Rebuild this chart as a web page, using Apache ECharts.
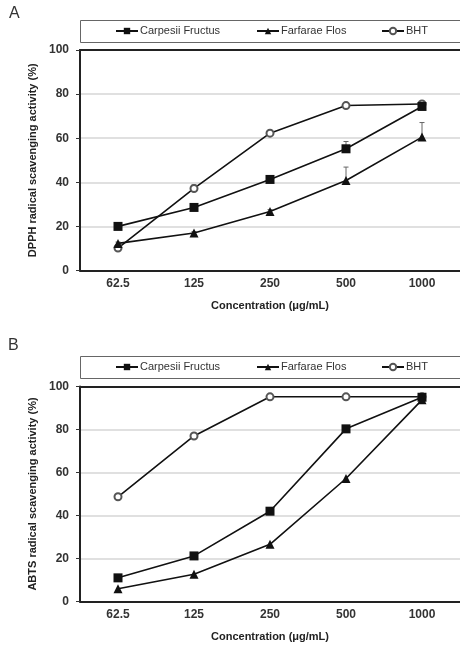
<!DOCTYPE html>
<html><head><meta charset="utf-8">
<script src="https://cdn.jsdelivr.net/npm/echarts@6/dist/echarts.min.js"></script>
<style>html,body{margin:0;padding:0;background:#fff}#c{width:460px;height:646px}</style>
</head><body><div id="c"></div>
<script>
const categories = ['62.5', '125', '250', '500', '1000'];
const seriesNames = ['Carpesii Fructus', 'Farfarae Flos', 'BHT'];
const yTicks = [0, 20, 40, 60, 80, 100];

// Panel A: DPPH
const dpphCarpesii = [20.0, 28.6, 41.3, 55.2, 74.4];
const dpphFarfarae = [12.3, 17.0, 26.8, 40.8, 60.5];
const dpphBHT = [10.2, 37.2, 62.3, 74.8, 75.5];
const dpphCarpesiiErr = [0.6, 0.8, 1.2, 3.3, 0.8];
const dpphFarfaraeErr = [0.6, 0.6, 0.8, 6.1, 6.6];
const dpphBHTErr = [0.4, 1.6, 0.6, 0.6, 0.5];

// Panel B: ABTS
const abtsCarpesii = [11.0, 21.2, 42.0, 80.3, 95.0];
const abtsFarfarae = [5.9, 12.7, 26.6, 57.2, 93.8];
const abtsBHT = [48.7, 77.0, 95.2, 95.2, 95.2];

const FONT = 'Liberation Sans, Arial, sans-serif';
const chart = echarts.init(document.getElementById('c'), null, {renderer: 'canvas'});

const grids = [
  {left: 80, top: 50, width: 383, height: 220.5},
  {left: 80, top: 386.5, width: 383, height: 215}
];

function errRender(params, api) {
  const x = api.value(0), y = api.value(1), e = api.value(2);
  const p0 = api.coord([x, y]);
  const p1 = api.coord([x, y + e]);
  const st = {stroke: '#666', lineWidth: 1};
  return {type: 'group', children: [
    {type: 'line', shape: {x1: p0[0], y1: p0[1], x2: p1[0], y2: p1[1]}, style: st},
    {type: 'line', shape: {x1: p1[0] - 2.5, y1: p1[1], x2: p1[0] + 2.5, y2: p1[1]}, style: st}
  ]};
}

const symbols = ['rect', 'triangle', 'emptyCircle'];
const symSizes = [9, 9, 7];

function lineSeries(name, idx, data, gi) {
  return {
    type: 'line', name: name, xAxisIndex: gi * 2, yAxisIndex: gi, data: data,
    symbol: symbols[idx], symbolSize: symSizes[idx], z: idx === 2 ? 3 : 4,
    lineStyle: {color: '#111', width: 1.6},
    itemStyle: idx === 2 ? {color: '#555', borderColor: '#555', borderWidth: 1} : {color: '#111'},
    emphasis: {disabled: true}, animation: false
  };
}
function errSeries(vals, errs, gi) {
  return {
    type: 'custom', xAxisIndex: gi * 2, yAxisIndex: gi, z: 2, animation: false,
    renderItem: errRender, silent: true,
    data: vals.map((v, i) => [i, v, errs[i]])
  };
}

const xAxes = [], yAxes = [];
const yNames = ['DPPH radical scavenging activity (%)', 'ABTS radical scavenging activity (%)'];
[0, 1].forEach(gi => {
  xAxes.push({
    type: 'category', gridIndex: gi, data: categories, boundaryGap: true,
    name: 'Concentration (\u03bcg/mL)', nameLocation: 'middle', nameGap: 30,
    nameTextStyle: {fontFamily: FONT, fontWeight: 'bold', fontSize: 11, color: '#222'},
    axisLine: {lineStyle: {color: '#222', width: 2}},
    axisTick: {alignWithLabel: true, length: 3, lineStyle: {color: '#333'}},
    axisLabel: {fontFamily: FONT, fontWeight: 'bold', fontSize: 12, color: '#333', margin: 7},
    splitLine: {show: false}
  });
  xAxes.push({
    type: 'category', gridIndex: gi, data: categories, position: 'top',
    axisLine: {lineStyle: {color: '#222', width: 2}},
    axisTick: {show: false}, axisLabel: {show: false}, splitLine: {show: false}
  });
  yAxes.push({
    type: 'value', gridIndex: gi, min: 0, max: 100, interval: 20,
    name: yNames[gi], nameLocation: 'middle', nameGap: 37,
    nameTextStyle: {fontFamily: FONT, fontWeight: 'bold', fontSize: 11, color: '#222'},
    axisLine: {show: true, lineStyle: {color: '#222', width: 2}},
    axisTick: {show: true, length: 4, lineStyle: {color: '#333'}},
    axisLabel: {fontFamily: FONT, fontWeight: 'bold', fontSize: 12, color: '#333', margin: 11,
      formatter: v => yTicks.includes(v) ? String(v) : ''},
    splitLine: {show: true, lineStyle: {color: '#d6d6d6', width: 1.5}}
  });
});

const legendLefts = [115, 256, 381];
const legendTops = [25.5, 361.5];
const legends = [];
[0, 1].forEach(gi => {
  seriesNames.forEach((n, i) => {
    legends.push({
      left: legendLefts[i], top: legendTops[gi], data: [n], itemWidth: 22, itemHeight: 8, itemGap: 0,
      selectedMode: false, padding: 0,
      textStyle: {fontFamily: FONT, fontSize: 11, color: '#333', padding: [0, 0, 0, -3]}
    });
  });
});

const series = [
  errSeries(dpphCarpesii, dpphCarpesiiErr, 0),
  errSeries(dpphFarfarae, dpphFarfaraeErr, 0),
  errSeries(dpphBHT, dpphBHTErr, 0),
  lineSeries(seriesNames[0], 0, dpphCarpesii, 0),
  lineSeries(seriesNames[1], 1, dpphFarfarae, 0),
  lineSeries(seriesNames[2], 2, dpphBHT, 0),
  lineSeries(seriesNames[0], 0, abtsCarpesii, 1),
  lineSeries(seriesNames[1], 1, abtsFarfarae, 1),
  lineSeries(seriesNames[2], 2, abtsBHT, 1)
];

chart.setOption({
  backgroundColor: '#fff',
  animation: false,
  grid: grids,
  xAxis: xAxes,
  yAxis: yAxes,
  legend: legends,
  graphic: [
    {type: 'rect', shape: {x: 80.5, y: 20.5, width: 390, height: 22}, style: {fill: 'none', stroke: '#666', lineWidth: 1}, z: 0},
    {type: 'rect', shape: {x: 80.5, y: 356.5, width: 390, height: 22}, style: {fill: 'none', stroke: '#666', lineWidth: 1}, z: 0},
    {type: 'text', left: 9, top: 6, style: {text: 'A', font: '16px ' + FONT, fill: '#333'}},
    {type: 'text', left: 8, top: 338, style: {text: 'B', font: '16px ' + FONT, fill: '#333'}}
  ],
  series: series
});
</script></body></html>
